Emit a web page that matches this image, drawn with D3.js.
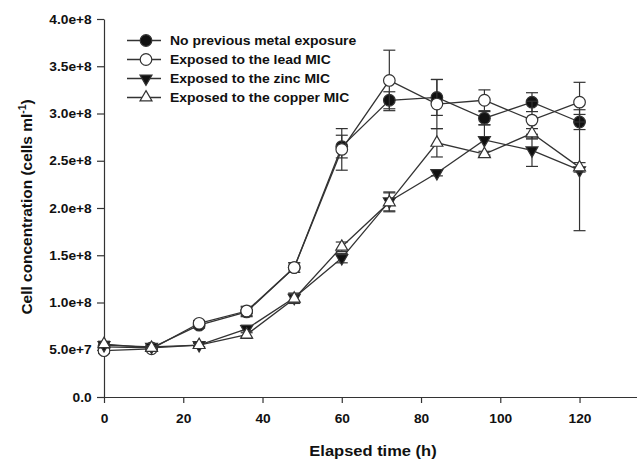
<!DOCTYPE html>
<html>
<head>
<meta charset="utf-8">
<script src="https://cdn.jsdelivr.net/npm/d3@7"></script>
<style>
  body { margin: 0; background: #fff; }
  svg text { font-family: "Liberation Sans", Arial, sans-serif; font-weight: bold; fill: #111; }
</style>
</head>
<body>
<svg class="chart" width="637" height="460"></svg>
<script>
// sampling times (h)
var hours = [0, 12, 24, 36, 48, 60, 72, 84, 96, 108, 120];

// cell concentration, units of 1e8 cells/ml
var noMetal   = [0.53, 0.52, 0.76, 0.90, 1.37, 2.65, 3.14, 3.17, 2.95, 3.12, 2.91];
var noMetalSd = [0.03, 0.02, 0.03, 0.05, 0.05, 0.12, 0.09, 0.19, 0.07, 0.10, 0.08];
var lead      = [0.49, 0.51, 0.78, 0.91, 1.37, 2.62, 3.35, 3.10, 3.14, 2.93, 3.12];
var leadSd    = [0.03, 0.02, 0.03, 0.05, 0.05, 0.22, 0.32, 0.26, 0.11, 0.20, 0.21];
var zinc      = [0.55, 0.53, 0.55, 0.72, 1.05, 1.47, 2.07, 2.37, 2.72, 2.61, 2.40];
var zincSd    = [0.03, 0.02, 0.02, 0.04, 0.05, 0.05, 0.10, 0.03, 0.16, 0.17, 0.64];
var copper    = [0.56, 0.52, 0.55, 0.66, 1.04, 1.59, 2.06, 2.69, 2.57, 2.79, 2.43];
var copperSd  = [0.03, 0.02, 0.02, 0.04, 0.05, 0.05, 0.10, 0.15, 0.03, 0.05, 0.05];

var labels = ["No previous metal exposure", "Exposed to the lead MIC",
              "Exposed to the zinc MIC", "Exposed to the copper MIC"];

var yTicks = [0, 0.5, 1, 1.5, 2, 2.5, 3, 3.5, 4];
var yTickLabels = ["0.0", "5.0e+7", "1.0e+8", "1.5e+8", "2.0e+8", "2.5e+8", "3.0e+8", "3.5e+8", "4.0e+8"];
var xTicks = [0, 20, 40, 60, 80, 100, 120];

var series = [
  {name: labels[0], vals: noMetal, sd: noMetalSd, shape: "circle", fill: "#111"},
  {name: labels[1], vals: lead, sd: leadSd, shape: "circle", fill: "#fff"},
  {name: labels[2], vals: zinc, sd: zincSd, shape: "down", fill: "#111"},
  {name: labels[3], vals: copper, sd: copperSd, shape: "up", fill: "#fff"}
];

var svg = d3.select("svg.chart");
var ink = "#333";
var sx = 1.1; // the original lettering is a bit wider than Liberation Sans

var x = d3.scaleLinear().domain([0, 134.5]).range([104, 637]);
var y = d3.scaleLinear().domain([0, 4]).range([397, 19]);

// axes
var gx = svg.append("g").attr("transform", "translate(0,397)")
  .call(d3.axisBottom(x).tickValues(xTicks).tickSize(6).tickPadding(11).tickSizeOuter(0));
var gy = svg.append("g").attr("transform", "translate(104,0)")
  .call(d3.axisLeft(y).tickValues(yTicks).tickSize(7).tickPadding(9).tickSizeOuter(0)
    .tickFormat(function(d, i) { return yTickLabels[i]; }));
gx.selectAll("text").style("font-size", "12.5px").attr("transform", "scale(" + sx + ",1)");
gy.selectAll("text").style("font-size", "12.5px").attr("x", -12.3 / sx)
  .attr("transform", "scale(" + sx + ",1)");
svg.selectAll(".domain, .tick line").attr("stroke", ink).attr("stroke-width", 1.2);

// axis titles
svg.append("text").attr("transform", "translate(373,456) scale(1.1,1)").attr("text-anchor", "middle")
  .style("font-size", "15px").text("Elapsed time (h)");
var yt = svg.append("text").attr("transform", "translate(32,207) rotate(-90) scale(1.03,1)")
  .attr("text-anchor", "middle").style("font-size", "15px");
yt.append("tspan").text("Cell concentration (cells ml");
yt.append("tspan").attr("dy", -6).style("font-size", "10px").text("-1");
yt.append("tspan").attr("dy", 6).text(")");

var line = d3.line()
  .x(function(d) { return x(d.t); })
  .y(function(d) { return y(d.v); });

function marker(g, shape, fill) {
  if (shape == "circle") {
    g.append("circle").attr("r", 5.8).attr("fill", fill).attr("stroke", ink).attr("stroke-width", 1.2);
  } else {
    var p = g.append("path").attr("d", d3.symbol().type(d3.symbolTriangle).size(62)())
      .attr("fill", fill).attr("stroke", ink).attr("stroke-width", 1.2);
    if (shape == "down") p.attr("transform", "rotate(180)");
  }
}

series.forEach(function(s) {
  var data = hours.map(function(t, i) { return {t: t, v: s.vals[i], e: s.sd[i]}; });
  var g = svg.append("g");
  // error bars
  data.forEach(function(d) {
    var cx = x(d.t), y0 = y(d.v - d.e), y1 = y(d.v + d.e);
    g.append("line").attr("x1", cx).attr("x2", cx).attr("y1", y0).attr("y2", y1)
      .attr("stroke", ink).attr("stroke-width", 1.2);
    [y0, y1].forEach(function(yy) {
      g.append("line").attr("x1", cx - 6).attr("x2", cx + 6).attr("y1", yy).attr("y2", yy)
        .attr("stroke", ink).attr("stroke-width", 1.2);
    });
  });
  g.append("path").datum(data).attr("d", line)
    .attr("fill", "none").attr("stroke", ink).attr("stroke-width", 1.3);
  data.forEach(function(d) {
    marker(g.append("g").attr("transform", "translate(" + x(d.t) + "," + y(d.v) + ")"), s.shape, s.fill);
  });
});

// legend
var leg = svg.append("g");
series.forEach(function(s, i) {
  var ly = 40.5 + i * 19;
  leg.append("line").attr("x1", 127).attr("x2", 161).attr("y1", ly).attr("y2", ly)
    .attr("stroke", ink).attr("stroke-width", 1.3);
  marker(leg.append("g").attr("transform", "translate(146," + ly + ")"), s.shape, s.fill);
  leg.append("text").attr("transform", "translate(170," + (ly + 4.5) + ") scale(1.16,1)")
    .style("font-size", "12px").text(s.name);
});
</script>
</body>
</html>
